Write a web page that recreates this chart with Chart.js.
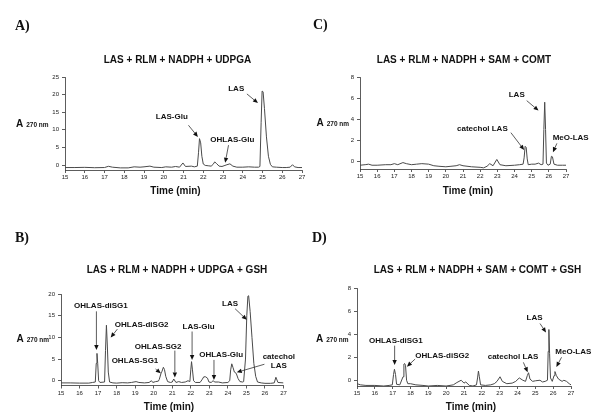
<!DOCTYPE html>
<html><head><meta charset="utf-8">
<script src="https://cdn.jsdelivr.net/npm/chart.js@4.4.1/dist/chart.umd.min.js"></script>
<style>
html,body{margin:0;padding:0;background:#fff;}
#wrap{position:relative;width:600px;height:420px;overflow:hidden;background:#fff;}
#wrap canvas{position:absolute;left:0;top:0;}
</style></head><body>
<div id="wrap">
<canvas id="cA" width="600" height="420"></canvas>
<canvas id="cB" width="600" height="420"></canvas>
<canvas id="cC" width="600" height="420"></canvas>
<canvas id="cD" width="600" height="420"></canvas>
</div>
<script>
// ---------- DATA ----------
const xTicks = [15,16,17,18,19,20,21,22,23,24,25,26,27];
const yTicksA = [0,5,10,15,20,25];
const yTicksB = [0,5,10,15,20];
const yTicksC = [0,2,4,6,8];
const yTicksD = [0,2,4,6,8];

const titleA = 'LAS + RLM + NADPH + UDPGA';
const titleB = 'LAS + RLM + NADPH + UDPGA + GSH';
const titleC = 'LAS + RLM + NADPH + SAM + COMT';
const titleD = 'LAS + RLM + NADPH + SAM + COMT + GSH';

const timeA = [15.0,15.5,16.0,16.5,17.0,17.2,17.4,17.8,18.2,18.5,
  18.8,19.0,19.3,19.5,19.9,20.1,20.4,20.6,20.8,20.97,
  21.1,21.4,21.55,21.7,21.76,21.81,21.87,21.93,22.0,22.1,
  22.25,22.4,22.5,22.58,22.68,22.8,22.95,23.1,23.2,23.35,
  23.5,23.7,24.0,24.3,24.6,24.8,24.87,24.93,24.98,25.03,
  25.1,25.2,25.3,25.4,25.5,25.7,26.0,26.2,26.4,26.52,
  26.62,26.8,27.0];
const absA = [-0.7,-0.7,-0.65,-0.75,-0.7,-0.35,-0.6,-0.8,-0.8,-0.5,
  -0.6,-0.5,-0.3,-0.6,-0.7,-0.5,-0.6,-0.4,-0.6,0.6,
  -0.4,-0.3,-0.5,-0.3,3.5,7.5,6.3,2.5,0.3,-0.1,
  -0.2,-0.3,0.2,0.9,0.4,-0.3,-0.4,-0.1,0.1,0.35,
  -0.3,-0.6,-0.6,-0.5,-0.6,-0.6,-0.4,12,21,20.8,
  16,8,2.5,0.2,-0.5,-0.6,-0.7,-0.7,-0.6,0.1,
  -0.5,-0.7,-0.7];

const timeB = [15.0,15.5,16.0,16.5,16.7,16.85,16.9,16.94,16.98,17.03,
  17.1,17.35,17.4,17.45,17.5,17.55,17.62,17.8,18.0,18.3,
  18.6,18.8,19.05,19.2,19.5,19.75,19.88,19.95,20.1,20.25,
  20.3,20.4,20.45,20.52,20.58,20.65,20.75,20.9,21.0,21.08,
  21.2,21.35,21.5,21.7,21.85,21.95,22.0,22.04,22.09,22.15,
  22.25,22.5,22.6,22.7,22.8,22.9,22.98,23.1,23.2,23.3,
  23.5,23.7,24.0,24.1,24.15,24.21,24.28,24.35,24.45,24.55,
  24.65,24.8,24.85,24.95,25.02,25.08,25.12,25.2,25.3,25.4,
  25.5,25.6,25.8,26.0,26.3,26.5,26.59,26.7,27.0];
const absB = [-0.5,-0.5,-0.55,-0.55,-0.4,-0.3,4,6.3,4,0,
  -0.4,-0.3,7,12.8,8,2,-0.3,-0.5,-0.55,-0.45,
  -0.5,-0.4,-0.2,-0.4,-0.5,-0.4,0,-0.4,-0.2,-0.1,
  0.3,1.8,2.2,3.1,2.6,1.0,-0.2,-0.4,-0.3,0.4,
  -0.4,-0.2,-0.4,-0.3,0,-0.2,2.5,4.4,2.5,0,
  -0.4,-0.4,0.2,0.9,0.9,0.6,-0.3,-0.4,0,-0.3,
  -0.3,-0.5,-0.4,0,2.5,3.9,3.0,2.0,1.7,0.5,
  -0.2,-0.3,-0.2,5,15,19.5,19.6,16,10,4,
  1,-0.3,-0.5,-0.6,-0.6,-0.5,0.8,-0.4,-0.5];

const timeC = [15.0,15.3,15.5,15.7,16.0,16.5,16.8,17.0,17.2,17.5,
  17.7,18.0,18.3,18.6,19.0,19.3,19.6,20.0,20.3,20.6,
  20.8,21.0,21.5,22.0,22.2,22.4,22.56,22.75,22.97,23.15,
  23.5,24.0,24.3,24.5,24.56,24.62,24.68,24.74,24.8,25.0,
  25.2,25.4,25.55,25.66,25.71,25.76,25.81,25.86,25.95,26.08,
  26.15,26.21,26.3,26.5,26.8,27.0];
const absC = [-0.4,-0.35,-0.3,-0.4,-0.4,-0.35,-0.35,-0.25,-0.35,-0.15,
  -0.25,-0.35,-0.3,-0.25,-0.3,-0.45,-0.5,-0.55,-0.5,-0.45,
  -0.35,-0.45,-0.55,-0.6,-0.65,-0.5,-0.25,-0.45,0.15,-0.35,
  -0.45,-0.4,-0.35,-0.3,0.3,1.4,1.3,0.2,-0.35,-0.3,
  -0.3,-0.2,-0.35,-0.3,3,5.6,3,-0.2,-0.4,-0.3,
  0.45,0.4,-0.3,-0.4,-0.4,-0.4];

const timeD = [15.0,15.2,15.5,16.0,16.5,16.8,16.98,17.05,17.1,17.16,
  17.22,17.4,17.58,17.63,17.67,17.72,17.78,17.85,18.0,18.3,
  18.7,19.0,19.5,20.0,20.4,20.6,20.84,21.0,21.1,21.3,
  21.5,21.7,21.76,21.81,21.86,21.93,22.2,22.5,22.7,22.85,
  23.02,23.15,23.4,23.7,23.9,24.1,24.3,24.45,24.55,24.62,
  24.7,24.85,25.0,25.26,25.4,25.55,25.68,25.72,25.76,25.8,
  25.85,25.95,26.05,26.1,26.18,26.3,26.5,26.6,26.75,26.9,
  27.0];
const absD = [-0.3,-0.4,-0.45,-0.45,-0.5,-0.45,-0.4,0.5,0.95,0.5,
  -0.35,-0.4,0.3,1.4,1.45,1.3,0.0,-0.3,-0.3,-0.4,
  -0.45,-0.5,-0.45,-0.5,-0.4,-0.2,0.0,-0.25,-0.15,-0.45,
  -0.5,-0.4,0.2,0.8,0.3,-0.4,-0.45,-0.4,-0.3,-0.1,
  0.3,-0.1,-0.3,-0.25,-0.1,0.2,0.0,-0.1,0.4,0.65,
  0.1,-0.1,-0.05,0.0,-0.15,-0.1,0.0,2.5,4.4,2.3,
  0.2,-0.1,0.4,0.75,0.4,0.1,-0.1,0.0,-0.1,-0.3,
  -0.4];

// peak annotations: label text, label centre, arrow tail -> arrow head (in data units)
const notesA = [
  {t:['LAS'], x:23.67, y:21.66, x1:24.21, y1:20.2, x2:24.77, y2:17.6},
  {t:['LAS-Glu'], x:20.41, y:13.65, x1:21.25, y1:11.3, x2:21.73, y2:8.0},
  {t:['OHLAS-Glu'], x:23.47, y:7.25, x1:23.28, y1:5.65, x2:23.11, y2:0.66}
];
const notesB = [
  {t:['OHLAS-diSG1'], x:17.15, y:17.3, x1:16.91, y1:16.0, x2:16.91, y2:7.1},
  {t:['OHLAS-diSG2'], x:19.35, y:12.9, x1:18.04, y1:11.9, x2:17.68, y2:9.96},
  {t:['OHLAS-SG1'], x:18.99, y:4.71, x1:20.1, y1:2.7, x2:20.38, y2:1.7},
  {t:['OHLAS-SG2'], x:20.24, y:7.8, x1:21.14, y1:6.95, x2:21.14, y2:0.77},
  {t:['LAS-Glu'], x:22.42, y:12.5, x1:22.07, y1:11.35, x2:22.07, y2:4.8},
  {t:['OHLAS-Glu'], x:23.64, y:5.87, x1:23.25, y1:4.8, x2:23.25, y2:0.15},
  {t:['LAS'], x:24.12, y:17.7, x1:24.39, y1:16.6, x2:25.02, y2:14.05},
  {t:['catechol','LAS'], x:26.75, y:4.4, x1:25.97, y1:3.8, x2:24.48, y2:1.93}
];
const notesC = [
  {t:['LAS'], x:24.13, y:6.29, x1:24.71, y1:5.75, x2:25.4, y2:4.8},
  {t:['catechol LAS'], x:22.13, y:3.1, x1:23.79, y1:2.7, x2:24.56, y2:1.05},
  {t:['MeO-LAS'], x:27.27, y:2.22, x1:26.47, y1:1.68, x2:26.24, y2:0.83}
];
const notesD = [
  {t:['OHLAS-diSG1'], x:17.18, y:3.4, x1:17.11, y1:3.0, x2:17.11, y2:1.32},
  {t:['OHLAS-diSG2'], x:19.78, y:2.1, x1:18.26, y1:1.84, x2:17.8, y2:1.18},
  {t:['catechol LAS'], x:23.75, y:2.05, x1:24.33, y1:1.55, x2:24.57, y2:0.69},
  {t:['LAS'], x:24.96, y:5.41, x1:25.26, y1:4.92, x2:25.6, y2:4.14},
  {t:['MeO-LAS'], x:27.13, y:2.47, x1:26.47, y1:1.99, x2:26.18, y2:1.15}
];

// ---------- RENDERING ----------
const SANS = '"Liberation Sans", Arial, Helvetica, sans-serif';
const SERIF = '"Liberation Serif", "Times New Roman", serif';

const decoPlugin = {
  id: 'deco',
  afterDraw(chart, args, o) {
    const ctx = chart.ctx, xs = chart.scales.x, ys = chart.scales.y;
    ctx.save();
    ctx.fillStyle = '#111';
    ctx.textBaseline = 'alphabetic';
    ctx.textAlign = 'left';
    ctx.font = 'bold 14px ' + SERIF;
    ctx.fillText(o.letter, o.letterX, o.letterY);
    ctx.textAlign = 'center';
    ctx.font = 'bold 10px ' + SANS;
    ctx.fillText(o.title, o.titleX, o.titleY);
    ctx.font = 'bold 10px ' + SANS;
    ctx.fillText('Time (min)', o.xlabX, o.xlabY);
    ctx.textAlign = 'left';
    ctx.font = 'bold 10px ' + SANS;
    ctx.fillText('A', o.ylabX, o.ylabY);
    const w = ctx.measureText('A').width;
    ctx.font = 'bold 6.5px ' + SANS;
    ctx.fillText('270 nm', o.ylabX + w + 3, o.ylabY);
    // annotations
    ctx.font = 'bold 8px ' + SANS;
    ctx.textAlign = 'center';
    ctx.textBaseline = 'middle';
    for (const n of o.notes) {
      const cx = xs.getPixelForValue(n.x), cy = ys.getPixelForValue(n.y);
      const lh = 9;
      n.t.forEach((s, i) => {
        ctx.fillText(s, cx, cy + (i - (n.t.length - 1) / 2) * lh);
      });
      const x1 = xs.getPixelForValue(n.x1), y1 = ys.getPixelForValue(n.y1);
      const x2 = xs.getPixelForValue(n.x2), y2 = ys.getPixelForValue(n.y2);
      const ang = Math.atan2(y2 - y1, x2 - x1);
      const hl = 5, hw = 2.2;
      const bx = x2 - hl * Math.cos(ang), by = y2 - hl * Math.sin(ang);
      ctx.strokeStyle = '#333';
      ctx.lineWidth = 0.8;
      ctx.beginPath();
      ctx.moveTo(x1, y1);
      ctx.lineTo(bx, by);
      ctx.stroke();
      ctx.fillStyle = '#111';
      ctx.beginPath();
      ctx.moveTo(x2, y2);
      ctx.lineTo(bx - hw * Math.sin(ang), by + hw * Math.cos(ang));
      ctx.lineTo(bx + hw * Math.sin(ang), by - hw * Math.cos(ang));
      ctx.closePath();
      ctx.fill();
    }
    ctx.restore();
  }
};

function makeChart(id, cfg) {
  const pts = cfg.time.map((t, i) => ({x: t, y: cfg.abs[i]}));
  const W = 30, H = 15;
  return new Chart(document.getElementById(id), {
    type: 'line',
    data: { datasets: [{ data: pts, borderColor: '#4a4a4a', borderWidth: 1, pointRadius: 0, tension: 0, fill: false }] },
    options: {
      responsive: false, animation: false, devicePixelRatio: 1,
      layout: { padding: { left: cfg.L - W, top: cfg.T, right: 600 - cfg.R, bottom: 420 - cfg.B - H } },
      plugins: { legend: {display: false}, tooltip: {enabled: false}, title: {display: false},
        deco: cfg.deco },
      scales: {
        x: {
          type: 'linear', min: 15, max: 27,
          afterFit: s => { s.height = H; },
          afterBuildTicks: s => { s.ticks = xTicks.map(v => ({value: v})); },
          grid: { drawOnChartArea: false, tickLength: 3, color: '#333', lineWidth: 0.8 },
          border: { color: '#333', width: 0.8 },
          ticks: { font: { size: 6, family: SANS }, color: '#222', padding: 1, maxRotation: 0, autoSkip: false }
        },
        y: {
          type: 'linear', min: cfg.ymin, max: cfg.ymax,
          afterFit: s => { s.width = W; },
          afterBuildTicks: s => { s.ticks = cfg.yTicks.map(v => ({value: v})); },
          grid: { drawOnChartArea: false, tickLength: 3, color: '#333', lineWidth: 0.8 },
          border: { color: '#333', width: 0.8 },
          ticks: { font: { size: 6, family: SANS }, color: '#222', padding: 3 }
        }
      }
    },
    plugins: [decoPlugin]
  });
}

makeChart('cA', { time: timeA, abs: absA, yTicks: yTicksA, ymin: -1.4, ymax: 25, L: 65, R: 302, T: 77, B: 170,
  deco: { letter: 'A)', letterX: 15, letterY: 30, title: titleA, titleX: 177.5, titleY: 63, xlabX: 175.5, xlabY: 194, ylabX: 16, ylabY: 127, notes: notesA } });
makeChart('cC', { time: timeC, abs: absC, yTicks: yTicksC, ymin: -0.76, ymax: 8, L: 360, R: 566, T: 77, B: 169,
  deco: { letter: 'C)', letterX: 313, letterY: 29, title: titleC, titleX: 464, titleY: 63, xlabX: 468, xlabY: 194, ylabX: 316.5, ylabY: 126, notes: notesC } });
makeChart('cB', { time: timeB, abs: absB, yTicks: yTicksB, ymin: -1.1, ymax: 20, L: 61, R: 283.5, T: 294, B: 385.5,
  deco: { letter: 'B)', letterX: 15, letterY: 242, title: titleB, titleX: 177, titleY: 273, xlabX: 169, xlabY: 410, ylabX: 16.5, ylabY: 342, notes: notesB } });
makeChart('cD', { time: timeD, abs: absD, yTicks: yTicksD, ymin: -0.5, ymax: 8, L: 357, R: 571, T: 288, B: 386,
  deco: { letter: 'D)', letterX: 312, letterY: 242, title: titleD, titleX: 477.5, titleY: 273, xlabX: 471, xlabY: 410, ylabX: 316, ylabY: 342, notes: notesD } });
</script>
</body></html>
